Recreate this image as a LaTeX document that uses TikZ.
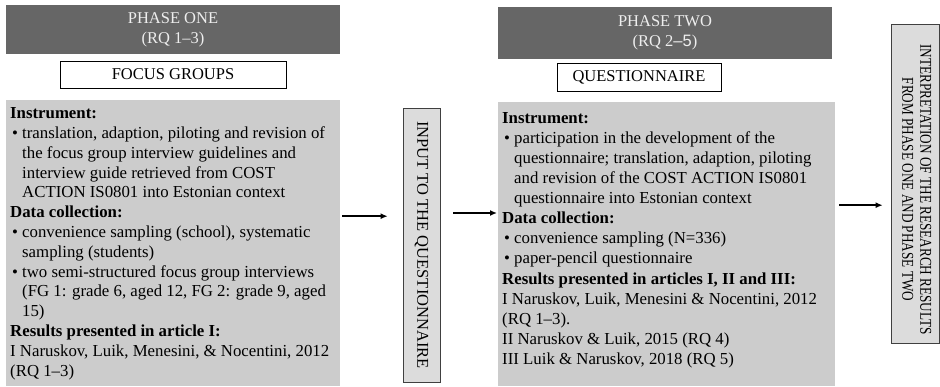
\documentclass[tikz,border=0pt]{standalone}
\usepackage{fontspec}
\setmainfont{Liberation Serif}
\newfontfamily\altfont{Liberation Sans}
\usetikzlibrary{arrows.meta}

\definecolor{headgray}{HTML}{666666}
\definecolor{headtext}{HTML}{EEEEEE}
\definecolor{boxgray}{HTML}{CCCCCC}
\definecolor{sidegray}{HTML}{DCDCDC}

\newcommand{\boxfont}{\fontsize{16.5}{19.8}\selectfont}
\newcommand{\bhead}[1]{\par\noindent\textbf{#1}\par}
\newcommand{\bitem}[1]{\par\noindent\hspace*{2pt}\makebox[10pt][l]{\textbullet}\mbox{#1}\par}
\newcommand{\bcont}[1]{\par\noindent\hspace*{12pt}\mbox{#1}\par}
\newcommand{\bplain}[1]{\par\noindent\mbox{#1}\par}

\tikzset{
  phasehead/.style={fill=headgray, text=headtext, align=center, inner sep=0pt, font=\boxfont},
  methodbox/.style={draw=black, fill=white, inner sep=0pt, line width=0.8pt, font=\boxfont},
  contentbox/.style={fill=boxgray, anchor=north west, inner xsep=4pt, inner ysep=0pt},
  sidebox/.style={draw=black!75, fill=sidegray, rotate=-90, inner sep=0pt, align=center, line width=0.8pt},
  flow/.style={-{Latex[length=7pt,width=6pt]}, line width=1.5pt}
}

\begin{document}
\begin{tikzpicture}[x=1pt, y=-1pt]
  \useasboundingbox (0,0) rectangle (940,386);
  %\draw [help lines, step=50] (0,0) grid (940,386);

  % phase one
  \node[phasehead, minimum width=334pt, minimum height=49pt] (head1) at (173,29.5) {PHASE ONE\\(RQ 1--3)};
  \node[methodbox, minimum width=226pt, minimum height=27pt] (focus) at (173,74.5) {FOCUS GROUPS};
  \node[contentbox] (phase1) at (6,100) {\begin{minipage}[c][286pt][t]{326pt}\fontsize{16.8}{19.8}\selectfont
    \vspace*{7.5pt}
    \bhead{Instrument:}
    \bitem{translation, adaption, piloting and revision of}
    \bcont{the focus group interview guidelines and}
    \bcont{interview guide retrieved from COST}
    \bcont{ACTION IS0801 into Estonian context}
    \bhead{Data collection:}
    \bitem{convenience sampling (school), systematic}
    \bcont{sampling (students)}
    \bitem{two semi-structured focus group interviews}
    \bcont{(FG 1: grade 6, aged 12, FG 2: grade 9, aged}
    \bcont{15)}
    \bhead{Results presented in article I:}
    \bplain{I Naruskov, Luik, Menesini, \& Nocentini, 2012}
    \bplain{(RQ 1--3)}
  \end{minipage}};

  \node[sidebox, minimum width=274pt, minimum height=37pt, font=\boxfont] (input) at (421.5,245) {INPUT TO THE QUESTIONNAIRE};

  % phase two
  \node[phasehead, minimum width=334pt, minimum height=52pt] (head2) at (665,33) {PHASE TWO\\(RQ 2{\altfont \textendash5})};
  \node[methodbox, minimum width=164pt, minimum height=28pt] (quest) at (639,77) {QUESTIONNAIRE};
  \node[contentbox] (phase2) at (498,102) {\begin{minipage}[c][284pt][t]{329pt}\fontsize{16.8}{20.1}\selectfont
    \vspace*{10pt}
    \bhead{Instrument:}
    \bitem{participation in the development of the}
    \bcont{questionnaire; translation, adaption, piloting}
    \bcont{and revision of the COST ACTION IS0801}
    \bcont{questionnaire into Estonian context}
    \bhead{Data collection:}
    \bitem{convenience sampling (N=336)}
    \bitem{paper-pencil questionnaire}
    \bhead{Results presented in articles I, II and III:}
    \bplain{I Naruskov, Luik, Menesini \& Nocentini, 2012}
    \bplain{(RQ 1--3).}
    \bplain{II Naruskov \& Luik, 2015 (RQ 4)}
    \bplain{III Luik \& Naruskov, 2018 (RQ 5)}
  \end{minipage}};

  \node[sidebox, minimum width=319pt, minimum height=48pt, font=\fontsize{16.5}{18}\selectfont] (results) at (915,183.5)
    {\hspace*{12pt}\raisebox{7pt}{\scalebox{0.8}[1]{\begin{tabular}{@{}c@{}}INTERPRETATION OF THE RESEARCH RESULTS\\FROM PHASE ONE AND PHASE TWO\end{tabular}}}};

  \draw[flow, shorten <=2pt, shorten >=15pt] ([yshift=27pt]phase1.east) -- ([yshift=27pt]phase1.east -| input.south);
  \draw[flow, shorten <=13pt, shorten >=1pt] ([yshift=32pt]input.north) -- ([yshift=32pt]input.north -| phase2.west);
  \draw[flow, shorten <=4pt, shorten >=8pt] ([yshift=39pt]phase2.east) -- ([yshift=39pt]phase2.east -| results.south);
\end{tikzpicture}
\end{document}
